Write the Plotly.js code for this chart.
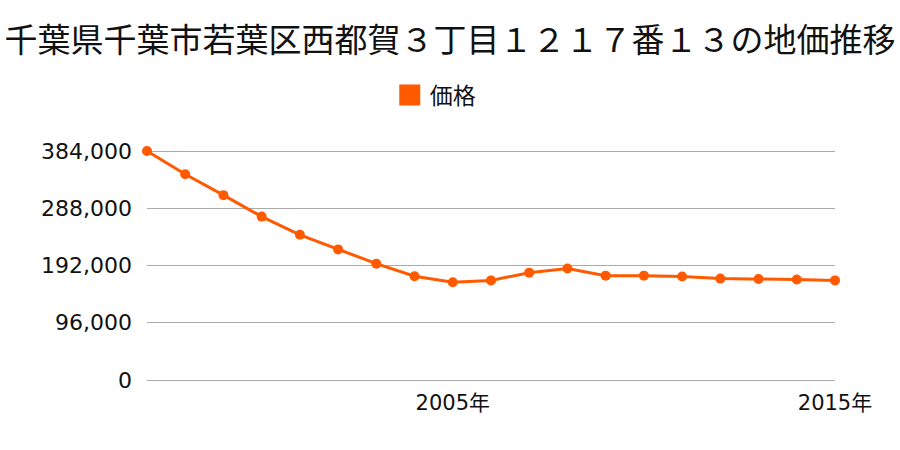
<!DOCTYPE html>
<html>
<head>
<meta charset="utf-8">
<script src="https://cdn.plot.ly/plotly-3.0.1.min.js"></script>
<style>html,body{margin:0;padding:0;background:#fff;}#chart{width:900px;height:450px;}</style>
</head>
<body>
<div id="chart"></div>
<script>
var years = [1997,1998,1999,2000,2001,2002,2003,2004,2005,2006,2007,2008,2009,2010,2011,2012,2013,2014,2015];
var prices = [384000,345000,310000,274000,243500,219000,195000,174000,164000,167000,180000,187000,175000,175000,173500,170000,169500,168500,167000];
var seriesName = '価格';
var titleText = '千葉県千葉市若葉区西都賀３丁目１２１７番１３の地価推移';
var xTickVals = [2005, 2015];
var xTickText = ['2005年', '2015年'];
var yTickVals = [0, 96000, 192000, 288000, 384000];

var color = '#ff5a00';
var font = '"Noto Sans CJK JP", "Noto Sans", sans-serif';
var tickFontFamily = '"DejaVu Sans", "Noto Sans CJK JP", sans-serif';
var unitPerPx = 384000 / 229;
var padPx = 4;

var traces = [
  {
    x: years, y: prices, type: 'scatter', mode: 'lines+markers',
    name: seriesName, showlegend: false, cliponaxis: false,
    line: {color: color, width: 3},
    marker: {color: color, size: 10}
  },
  {
    x: [null], y: [null], type: 'scatter', mode: 'markers',
    name: seriesName, showlegend: true,
    marker: {color: color, size: 16, symbol: 'square', line: {color: color, width: 5}}
  }
];

var layout = {
  width: 900, height: 450,
  margin: {l: 147, r: 65, t: 151 - padPx, b: 70 - padPx},
  paper_bgcolor: '#fff', plot_bgcolor: '#fff',
  font: {family: font, color: '#111', size: 22},
  title: {text: titleText, font: {family: font, size: 33, color: '#111'},
          x: 0.5, xanchor: 'center', y: 1 - 40/450, yanchor: 'middle', yref: 'container'},
  showlegend: true,
  legend: {orientation: 'h', x: 0.419, xanchor: 'center', y: 1 - 95/450, yanchor: 'middle',
           yref: 'container', font: {size: 23, family: font}, itemwidth: 30},
  xaxis: {range: [1997, 2015], tickvals: xTickVals, ticktext: xTickText,
          showgrid: false, zeroline: false, showline: false, ticks: '',
          ticklabelstandoff: padPx, tickfont: {size: 21, family: tickFontFamily}, fixedrange: true},
  yaxis: {range: [-padPx * unitPerPx, 384000 + padPx * unitPerPx], tickvals: yTickVals, tickformat: ',d',
          showgrid: true, gridcolor: '#aaaaaa', gridwidth: 1, zeroline: false,
          showline: false, ticks: '', ticklabelstandoff: 14,
          tickfont: {size: 22, family: tickFontFamily}, fixedrange: true}
};

Plotly.newPlot('chart', traces, layout, {displayModeBar: false, staticPlot: true});
</script>
</body>
</html>
